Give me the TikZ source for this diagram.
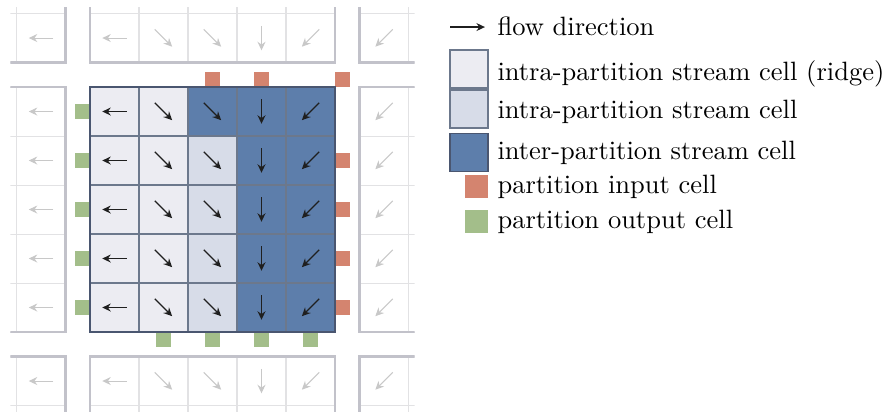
\documentclass[tikz,border=0pt]{standalone}
\usepackage{tikz}
\usetikzlibrary{arrows.meta,positioning,calc}

\definecolor{ridgecol}{HTML}{ECECF2}
\definecolor{intracol}{HTML}{D7DCE8}
\definecolor{intercol}{HTML}{5D7EAB}
\definecolor{incol}{HTML}{D4846F}
\definecolor{outcol}{HTML}{A3BE8A}
\definecolor{gridcol}{HTML}{6C788C}
\definecolor{bordercol}{HTML}{4A5670}
\definecolor{ghostcol}{HTML}{E2E2E4}
\definecolor{ghostedge}{HTML}{C2C2CA}
\definecolor{ghostarrow}{HTML}{C8C8C8}

\begin{document}
\begin{tikzpicture}[x=0.65cm, y=0.65cm,
    flow/.style={-{Stealth[length=3.2pt, width=3pt]}, line width=0.5pt, black!88},
    ghostflow/.style={-{Stealth[length=3.2pt, width=3pt]}, line width=0.4pt, ghostarrow},
    ghostgrid/.style={ghostcol, line width=0.4pt, step=1},
    ghostrim/.style={ghostedge, line width=0.8pt},
    inport/.style={fill=incol},
    outport/.style={fill=outcol},
    legbox/.style={draw=gridcol, line width=0.5pt, minimum size=0.504cm, inner sep=0pt},
    portbox/.style={minimum size=0.305cm, inner sep=0pt},
    keytext/.style={anchor=base west, inner sep=0pt}
]
\useasboundingbox (-1.837,-6.633) rectangle (16.245,1.776);

% neighbouring partitions
\begin{scope}
\clip (-1.625,-6.625) rectangle (6.625,1.625);
\foreach \px/\py in {-1/1,0/1,1/1,-1/0,1/0,-1/-1,0/-1,1/-1} {
  \begin{scope}[shift={(5.5*\px,5.5*\py)}]
    \draw[ghostgrid] (0,-5) grid (5,0);
    \draw[ghostrim] (0,-5) rectangle (5,0);
  \end{scope}
}
\end{scope}

% flow in the neighbours
\foreach \i/\dx/\dy in {0/-1/0, 1/0.707/-0.707, 2/0.707/-0.707, 3/0/-1, 4/-0.707/-0.707} {
  \draw[ghostflow] (\i+0.5-0.25*\dx, 1-0.25*\dy) -- ++(0.5*\dx,0.5*\dy);
  \draw[ghostflow] (\i+0.5-0.25*\dx, -6-0.25*\dy) -- ++(0.5*\dx,0.5*\dy);
}
\foreach \y in {1,-0.5,-1.5,-2.5,-3.5,-4.5,-6} {
  \draw[ghostflow] (-0.75,\y) -- ++(-0.5,0);
  \draw[ghostflow] (6.177,\y+0.177) -- ++(-0.354,-0.354);
}

% ports
\foreach \i in {2,3}
  \fill[inport] (\i+0.35,0) rectangle ++(0.3,0.3);
\fill[inport] (5,0) rectangle ++(0.3,0.3);
\foreach \j in {1,...,4}
  \fill[inport] (5,-\j-0.65) rectangle ++(0.3,0.3);
\foreach \j in {0,...,4}
  \fill[outport] (-0.3,-\j-0.65) rectangle ++(0.3,0.3);
\foreach \i in {1,...,4}
  \fill[outport] (\i+0.35,-5.3) rectangle ++(0.3,0.3);

% partition cells
\fill[ridgecol] (0,0) rectangle (2,-5);
\fill[intracol] (2,-1) rectangle (3,-5);
\fill[intercol] (2,0) rectangle (3,-1);
\fill[intercol] (3,0) rectangle (5,-5);
\draw[gridcol, line width=0.5pt, step=1] (0,-5) grid (5,0);
\draw[bordercol, line width=1pt] (0,0) rectangle (5,-5);

\foreach \i/\dx/\dy in {0/-1/0, 1/0.707/-0.707, 2/0.707/-0.707, 3/0/-1, 4/-0.707/-0.707}
  \foreach \j in {0,...,4}
    \draw[flow] (\i+0.5-0.25*\dx, -\j-0.5-0.25*\dy) -- ++(0.5*\dx,0.5*\dy);

% legend
\coordinate (flow-a) at (7.35,1.224);
\coordinate (flow-b) at (8.06,1.224);
\draw[flow] (flow-a) -- (flow-b);
\node[keytext] (t-flow) at (8.306,1.061) {flow direction};

\node[legbox, fill=ridgecol] (key-ridge) at (7.735,0.368) {};
\node[keytext] (t-ridge) at (8.306,0.143) {intra-partition stream cell (ridge)};
\node[legbox, fill=intracol] (key-intra) at (7.735,-0.449) {};
\node[keytext] (t-intra) at (8.306,-0.633) {intra-partition stream cell};
\node[legbox, fill=intercol, draw=bordercol] (key-inter) at (7.735,-1.337) {};
\node[keytext] (t-inter) at (8.306,-1.469) {inter-partition stream cell};
\node[portbox, inport] (key-in) at (7.888,-2.03) {};
\node[keytext] (t-in) at (8.306,-2.163) {partition input cell};
\node[portbox, outport] (key-out) at (7.888,-2.745) {};
\node[keytext] (t-out) at (8.306,-2.878) {partition output cell};
\end{tikzpicture}
\end{document}
